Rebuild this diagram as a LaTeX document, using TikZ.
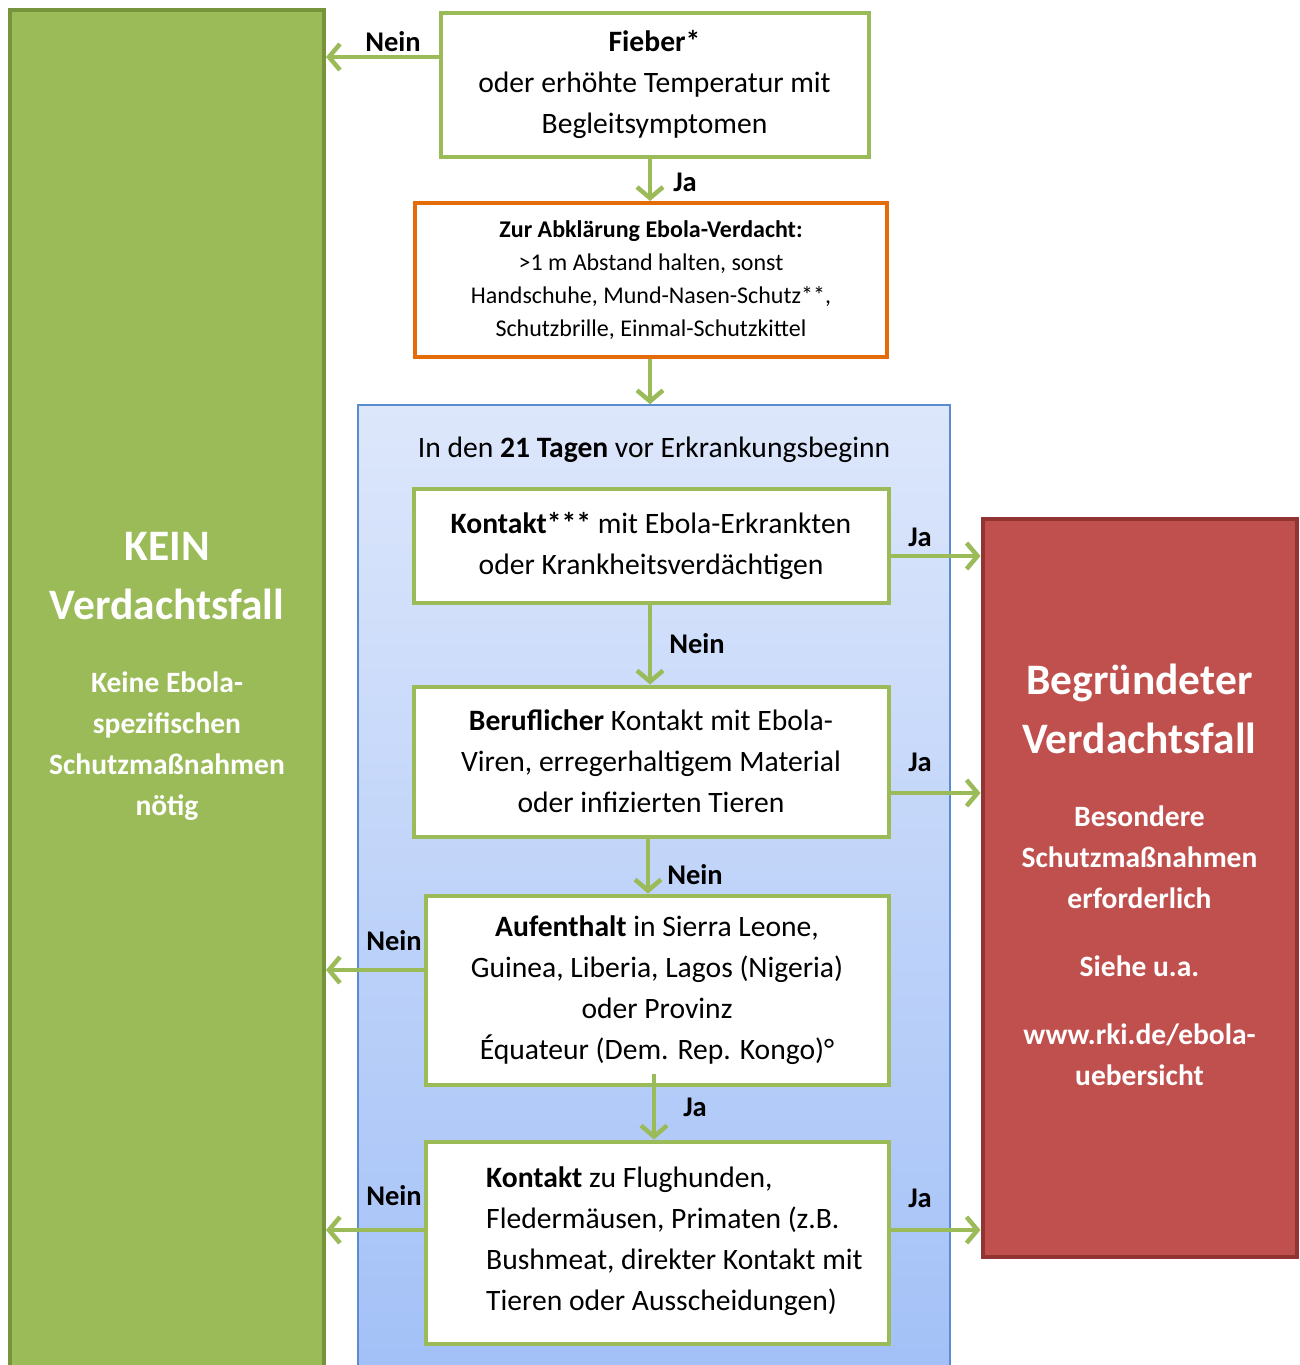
\documentclass[tikz,border=0pt]{standalone}
\usepackage{fontspec}
\setmainfont{Carlito}
\usetikzlibrary{arrows.meta,calc}
\definecolor{gfill}{HTML}{9BBB59}
\definecolor{gdark}{HTML}{77933C}
\definecolor{agreen}{HTML}{9BBB59}
\definecolor{oborder}{HTML}{E36C09}
\definecolor{rfill}{HTML}{C0504D}
\definecolor{rdark}{HTML}{923431}
\definecolor{bborder}{HTML}{5B8BD0}
\definecolor{btop}{HTML}{DDE7FB}
\definecolor{bbot}{HTML}{A2C0F7}
\tikzset{
  wbox/.style={draw=gfill, line width=4pt, fill=white, inner sep=0pt, align=center,
    font=\fontsize{29.6}{41}\selectfont},
  arr/.style={draw=agreen, line width=4.5pt, -{Straight Barb[length=11pt,width=26pt]}},
  lbl/.style={font=\bfseries\fontsize{28.5}{28.5}\selectfont, inner sep=0pt},
  wtitle/.style={text=white, align=center, font=\bfseries\fontsize{43.5}{59}\selectfont, inner sep=0pt},
  wsub/.style={text=white, align=center, font=\bfseries\fontsize{29.5}{41}\selectfont, inner sep=0pt}
}
\begin{document}
\begin{tikzpicture}[x=1pt,y=-1pt]
\useasboundingbox (0,0) rectangle (1299,1365);
\begin{scope}
\clip (0,0) rectangle (1299,1365);
% left green box
\node[draw=gdark, fill=gfill, line width=4pt, minimum width=314pt, minimum height=1380pt, inner sep=0pt] (kein) at (167,700) {};
% blue container
\node[draw=bborder, line width=1.5pt, top color=btop, bottom color=bbot, minimum width=592pt, minimum height=980pt, inner sep=0pt] (blue) at (654,895) {};
\end{scope}
\node[wtitle] (keintitle) at (167,576) {KEIN\\Verdachtsfall};
\node[wsub] (keinsub) at (167,746) {Keine Ebola-\\spezifischen\\Schutzmaßnahmen\\nötig};

% red box
\node[draw=rdark, fill=rfill, line width=4pt, minimum width=314pt, minimum height=738pt, inner sep=0pt] (red) at (1139.5,887.5) {};
\node[wtitle] (redtitle) at (1139.5,708.5) {Begründeter\\Verdachtsfall};
\node[wsub] (redsub1) at (1139.5,857) {Besondere\\Schutzmaßnahmen\\erforderlich};
\node[wsub] (redsub2) at (1139.5,966) {Siehe u.a.};
\node[wsub] (redsub3) at (1139.5,1055) {www.rki.de/ebola-\\uebersicht};

% top boxes
\node[wbox, minimum width=428pt, minimum height=144pt] (fieber) at (654.5,84.5)
  {\textbf{Fieber*}\\oder erhöhte Temperatur mit\\Begleitsymptomen};
\node[wbox, draw=oborder, minimum width=472pt, minimum height=154pt, font=\fontsize{24}{33}\selectfont] (abkl) at (651,280)
  {\textbf{Zur Abklärung Ebola-Verdacht:}\\>1 m Abstand halten, sonst\\Handschuhe, Mund-Nasen-Schutz**,\\Schutzbrille, Einmal-Schutzkittel};

\node[font=\fontsize{29.6}{30}\selectfont, inner sep=0pt] (head) at (654,450) {In den \textbf{21 Tagen} vor Erkrankungsbeginn};

\node[wbox, minimum width=475pt, minimum height=114pt] (kontakt) at (651,545.5)
  {\textbf{Kontakt***} mit Ebola-Erkrankten\\oder Krankheitsverdächtigen};
\node[wbox, minimum width=475pt, minimum height=150pt] (beruf) at (651,761.5)
  {\textbf{Beruflicher} Kontakt mit Ebola-\\Viren, erregerhaltigem Material\\oder infizierten Tieren};
\node[wbox, minimum width=463pt, minimum height=189pt] (aufent) at (657,990)
  {\textbf{Aufenthalt} in Sierra Leone,\\Guinea, Liberia, Lagos (Nigeria)\\oder Provinz\\Équateur (Dem. Rep. Kongo)°};
\node[wbox, minimum width=463pt, minimum height=202pt] (tiere) at (657,1242.5) {};
\node[align=left, anchor=west, inner sep=0pt, font=\fontsize{29.6}{41}\selectfont] (tieretext) at (486,1241.5)
  {\textbf{Kontakt} zu Flughunden,\\Fledermäusen, Primaten (z.B.\\Bushmeat, direkter Kontakt mit\\Tieren oder Ausscheidungen)};

% arrows
\draw[arr] ([yshift=27.5pt]fieber.west) -- ([yshift=27.5pt]fieber.west -| kein.east);
\node[lbl] (l1) at (393,42) {Nein};
\draw[arr] ([xshift=-4.5pt]fieber.south) -- ([xshift=-4.5pt]fieber.south |- abkl.north);
\node[lbl] (l2) at (685,182) {Ja};
\draw[arr] ([xshift=-1pt]abkl.south) -- ([xshift=-1pt]abkl.south |- blue.north);
\draw[arr] ([yshift=-10.5pt]kontakt.east) -- ([yshift=-10.5pt]kontakt.east -| red.west);
\node[lbl] (l3) at (920,537) {Ja};
\draw[arr] ([xshift=-1pt]kontakt.south) -- ([xshift=-1pt]kontakt.south |- beruf.north);
\node[lbl] (l4) at (697,644) {Nein};
\draw[arr] ([yshift=-31.5pt]beruf.east) -- ([yshift=-31.5pt]beruf.east -| red.west);
\node[lbl] (l5) at (920,762) {Ja};
\draw[arr] ([xshift=-3pt]beruf.south) -- ([xshift=-3pt]beruf.south |- aufent.north);
\node[lbl] (l6) at (695,875) {Nein};
\draw[arr] ([yshift=20pt]aufent.west) -- ([yshift=20pt]aufent.west -| kein.east);
\node[lbl] (l7) at (394,941) {Nein};
\draw[arr] ([xshift=-3pt,yshift=13pt]aufent.south) -- ([xshift=-3pt]aufent.south |- tiere.north);
\node[lbl] (l8) at (695,1107) {Ja};
\draw[arr] ([yshift=12.5pt]tiere.west) -- ([yshift=12.5pt]tiere.west -| kein.east);
\node[lbl] (l9) at (394,1196) {Nein};
\draw[arr] ([yshift=12.5pt]tiere.east) -- ([yshift=12.5pt]tiere.east -| red.west);
\node[lbl] (l10) at (920,1198) {Ja};
\end{tikzpicture}
\end{document}
